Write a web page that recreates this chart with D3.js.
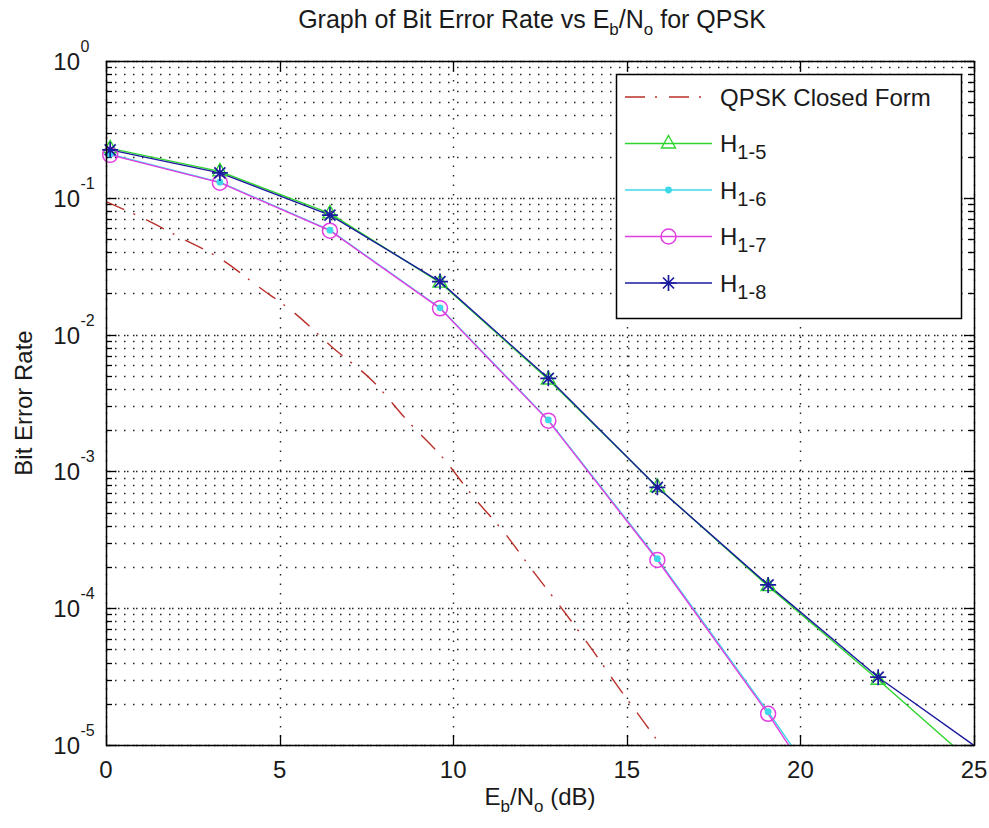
<!DOCTYPE html>
<html>
<head>
<meta charset="utf-8">
<script src="https://cdn.jsdelivr.net/npm/d3@7"></script>
<style>
  body { margin: 0; background: #fff; }
  text { font-family: "Liberation Sans", Arial, sans-serif; fill: #1a1a1a; }
</style>
</head>
<body>
<svg id="chart" width="989" height="828"></svg>
<script>
// simulated points (Eb/No in dB) and BER of each channel
var ebno = [0.12, 3.28, 6.45, 9.62, 12.74, 15.88, 19.07, 22.24, 25.4];
var berH15 = [0.230, 0.156, 0.0770, 0.0240, 0.00470, 7.7e-4, 1.45e-4, 3.0e-5, 5.9e-6];
var berH16 = [0.208, 0.130, 0.0580, 0.0157, 0.00238, 2.3e-4, 1.75e-5, 1.2e-6, 8e-8];
var berH17 = [0.206, 0.129, 0.0575, 0.01556, 0.00235, 2.25e-4, 1.69e-5, 1.0e-6, 6e-8];
var berH18 = [0.224, 0.152, 0.0748, 0.0244, 0.00479, 7.65e-4, 1.48e-4, 3.13e-5, 8.4e-6];

// closed form curve
var closedX = [0, 1.07, 2.18, 3.28, 4.39, 5.44, 6.55, 7.7, 8.66, 9.71, 10.58, 11.49, 12.31, 13.12, 13.94, 14.71, 15.52, 16.2];
var closedBer = [0.0938, 0.0708, 0.0506, 0.0361, 0.0224, 0.0143, 0.00794, 0.00453, 0.00238, 0.00125,
  6.53e-4, 3.52e-4, 1.85e-4, 1.0e-4, 5.24e-5, 2.75e-5, 1.44e-5, 8.3e-6];

var xTicks = [0, 5, 10, 15, 20, 25];
var yExponents = [0, -1, -2, -3, -4, -5];
var legendNames = ['QPSK Closed Form', 'H', 'H', 'H', 'H'];
var legendSubs = ['', '1-5', '1-6', '1-7', '1-8'];

(function () {
  var svg = d3.select('#chart');
  var pLeft = 106, pRight = 974, pTop = 61, pBottom = 745;

  var x = d3.scaleLinear().domain([0, 25]).range([pLeft, pRight]);
  var y = d3.scaleLog().domain([1e-5, 1]).range([pBottom, pTop]);

  svg.append('rect').attr('width', 989).attr('height', 828).attr('fill', '#fff');

  svg.append('defs').append('clipPath').attr('id', 'plot-clip')
    .append('rect')
      .attr('x', pLeft).attr('y', pTop)
      .attr('width', pRight - pLeft).attr('height', pBottom - pTop);

  function isMajor(v) {
    return Math.abs(Math.log10(v) - Math.round(Math.log10(v))) < 1e-9;
  }

  //grid
  var grid = svg.append('g')
    .attr('stroke', '#222')
    .attr('stroke-width', 1.4)
    .attr('fill', 'none');

  var yAll = y.ticks();
  yAll.forEach(function (v) {
    var yy = Math.round(y(v)) + 0.5;
    grid.append('line')
      .attr('x1', pLeft).attr('x2', pRight).attr('y1', yy).attr('y2', yy)
      .attr('stroke-dasharray', '1.5,7.5');
    if (isMajor(v)) {
      grid.append('line')
        .attr('x1', pLeft + 3).attr('x2', pRight).attr('y1', yy).attr('y2', yy)
        .attr('stroke-dasharray', '1.5,7.5');
    }
  });

  xTicks.forEach(function (v) {
    var xx = Math.round(x(v)) + 0.5;
    grid.append('line')
      .attr('x1', xx).attr('x2', xx).attr('y1', pTop).attr('y2', pBottom)
      .attr('stroke-dasharray', '1.5,8');
  });

  //ticks
  var ticks = svg.append('g').attr('stroke', '#000').attr('stroke-width', 1.3);
  yAll.forEach(function (v) {
    var yy = Math.round(y(v)) + 0.5;
    var len = isMajor(v) ? 10 : 6;
    ticks.append('line').attr('x1', pLeft).attr('x2', pLeft + len).attr('y1', yy).attr('y2', yy);
    ticks.append('line').attr('x1', pRight - len).attr('x2', pRight).attr('y1', yy).attr('y2', yy);
  });
  xTicks.forEach(function (v) {
    var xx = Math.round(x(v)) + 0.5;
    ticks.append('line').attr('x1', xx).attr('x2', xx).attr('y1', pBottom).attr('y2', pBottom - 10);
    ticks.append('line').attr('x1', xx).attr('x2', xx).attr('y1', pTop).attr('y2', pTop + 10);
  });

  //data lines
  var plot = svg.append('g').attr('clip-path', 'url(#plot-clip)').attr('fill', 'none');

  var line = d3.line()
    .x(function (d) { return x(d[0]); })
    .y(function (d) { return y(d[1]); });

  var closedPts = d3.zip(closedX, closedBer);
  plot.append('path')
    .attr('d', line.curve(d3.curveMonotoneX)(closedPts))
    .attr('stroke', '#b8302a')
    .attr('stroke-width', 1.4)
    .attr('stroke-dasharray', '20,10,2,12');

  line.curve(d3.curveLinear);

  var series = [
    { vals: berH15, color: '#2fd52f', marker: 'tri' },
    { vals: berH16, color: '#3fd8e8', marker: 'dot' },
    { vals: berH17, color: '#e23ee2', marker: 'circ' },
    { vals: berH18, color: '#1b1b9e', marker: 'star' }
  ];

  function drawMarker(g, type, color, cx, cy) {
    if (type === 'tri') {
      g.append('path')
        .attr('d', 'M' + cx + ',' + (cy - 8) + 'L' + (cx + 7) + ',' + (cy + 4.5) + 'L' + (cx - 7) + ',' + (cy + 4.5) + 'Z')
        .attr('fill', 'none').attr('stroke', color).attr('stroke-width', 1.4);
    } else if (type === 'dot') {
      g.append('circle').attr('cx', cx).attr('cy', cy).attr('r', 3.4).attr('fill', color);
    } else if (type === 'circ') {
      g.append('circle').attr('cx', cx).attr('cy', cy).attr('r', 7.5)
        .attr('fill', 'none').attr('stroke', color).attr('stroke-width', 1.5);
    } else if (type === 'star') {
      g.append('path')
        .attr('d', 'M' + cx + ',' + (cy - 8) + 'V' + (cy + 8) +
          'M' + (cx - 8) + ',' + cy + 'H' + (cx + 8) +
          'M' + (cx - 5.5) + ',' + (cy - 5.5) + 'L' + (cx + 5.5) + ',' + (cy + 5.5) +
          'M' + (cx - 5.5) + ',' + (cy + 5.5) + 'L' + (cx + 5.5) + ',' + (cy - 5.5))
        .attr('stroke', color).attr('stroke-width', 1.7);
    }
  }

  var marks = svg.append('g');
  series.forEach(function (s) {
    var pts = d3.zip(ebno, s.vals);
    plot.append('path')
      .attr('d', line(pts))
      .attr('stroke', s.color)
      .attr('stroke-width', 1.4);
    pts.forEach(function (p) {
      if (p[0] <= 25 && p[1] >= 1e-5) {
        drawMarker(marks, s.marker, s.color, x(p[0]), y(p[1]));
      }
    });
  });

  //axes box
  svg.append('rect')
    .attr('x', pLeft + 0.5).attr('y', pTop + 0.5)
    .attr('width', pRight - pLeft).attr('height', pBottom - pTop)
    .attr('fill', 'none').attr('stroke', '#000').attr('stroke-width', 1.5);

  //tick labels
  xTicks.forEach(function (v) {
    svg.append('text')
      .attr('x', x(v)).attr('y', 778)
      .attr('text-anchor', 'middle')
      .attr('font-size', 24)
      .text(v);
  });

  yExponents.forEach(function (e) {
    var yy = y(Math.pow(10, e));
    svg.append('text')
      .attr('x', 80).attr('y', yy + 9)
      .attr('text-anchor', 'end')
      .attr('font-size', 24)
      .text('10');
    svg.append('text')
      .attr('x', 80.5).attr('y', yy - 9)
      .attr('font-size', 16)
      .text(e);
  });

  //title and axis labels
  var title = svg.append('text')
    .attr('x', 532).attr('y', 28)
    .attr('text-anchor', 'middle')
    .attr('font-size', 25);
  title.append('tspan').text('Graph of Bit Error Rate vs E');
  title.append('tspan').attr('font-size', 17).attr('dy', 7).text('b');
  title.append('tspan').attr('dy', -7).text('/N');
  title.append('tspan').attr('font-size', 17).attr('dy', 7).text('o');
  title.append('tspan').attr('dy', -7).text(' for QPSK');

  var xlab = svg.append('text')
    .attr('x', 540).attr('y', 805)
    .attr('text-anchor', 'middle')
    .attr('font-size', 24);
  xlab.append('tspan').text('E');
  xlab.append('tspan').attr('font-size', 17).attr('dy', 7).text('b');
  xlab.append('tspan').attr('dy', -7).text('/N');
  xlab.append('tspan').attr('font-size', 17).attr('dy', 7).text('o');
  xlab.append('tspan').attr('dy', -7).text(' (dB)');

  svg.append('text')
    .attr('transform', 'translate(32,403) rotate(-90)')
    .attr('text-anchor', 'middle')
    .attr('font-size', 24)
    .text('Bit Error Rate');

  //legend
  var lg = svg.append('g');
  var lgLeft = 616, lgTop = 74, lgRight = 961, lgBottom = 318;
  lg.append('rect')
    .attr('x', lgLeft + 0.5).attr('y', lgTop + 0.5)
    .attr('width', lgRight - lgLeft).attr('height', lgBottom - lgTop)
    .attr('fill', '#fff').attr('stroke', '#000').attr('stroke-width', 1.5);

  var rowY = d3.scaleLinear().domain([0, 4]).range([97, 283]);
  var lgSeries = [{ color: '#b8302a', marker: null, dash: '20,10,2,12' }].concat(series);

  lgSeries.forEach(function (s, i) {
    var yy = rowY(i);
    lg.append('line')
      .attr('x1', 625).attr('x2', 712).attr('y1', yy).attr('y2', yy)
      .attr('stroke', s.color).attr('stroke-width', 1.4)
      .attr('stroke-dasharray', s.dash || null);
    if (s.marker) {
      drawMarker(lg, s.marker, s.color, 668.5, yy);
    }
    var t = lg.append('text')
      .attr('x', 720).attr('y', yy + 8.5)
      .attr('font-size', 24);
    t.append('tspan').text(legendNames[i]);
    if (legendSubs[i]) {
      t.append('tspan').attr('font-size', 20).attr('dy', 7).text(legendSubs[i]);
    }
  });
})();
</script>
</body>
</html>
